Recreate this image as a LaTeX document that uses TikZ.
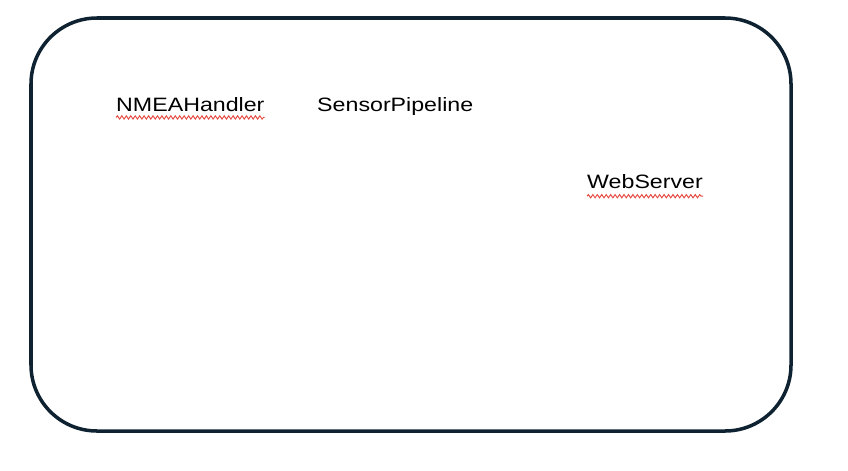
\documentclass[tikz,border=0pt]{standalone}
\usepackage{fontspec}
\setmainfont{Liberation Sans}[FakeStretch=1.2]
\usetikzlibrary{decorations.pathmorphing}
\definecolor{framecol}{HTML}{0F2231}
\definecolor{spellred}{HTML}{E5483E}
\begin{document}
\begin{tikzpicture}[x=0.03cm,y=-0.03cm]
	\tikzstyle{lbl}=[anchor=base west,inner sep=0pt,font=\fontsize{16.5}{18}\selectfont];
	\tikzstyle{squig}=[draw=spellred,line width=.8pt,decorate,decoration={snake,segment length=3.8pt,amplitude=1.4pt}];
	\useasboundingbox (0,0) rectangle (848,470);
	\draw[framecol,line width=3pt,rounded corners=1.98cm] (31,18) rectangle (791,431);
	\node[lbl] (nmea) at (116,111) {NMEAHandler};
	\node[lbl] (pipe) at (317,111) {SensorPipeline};
	\node[lbl] (web) at (587,188) {WebServer};
	\draw[squig] ([yshift=-5.5pt]nmea.base west) -- ([yshift=-5.5pt]nmea.base east);
	\draw[squig] ([yshift=-7pt]web.base west) -- ([yshift=-7pt]web.base east);
\end{tikzpicture}
\end{document}
